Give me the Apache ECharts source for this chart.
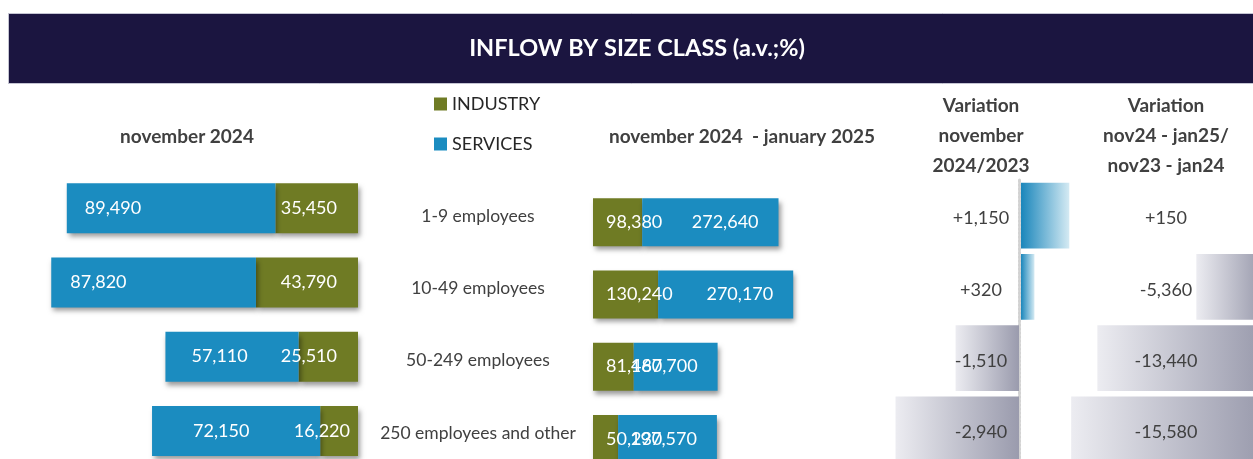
<!DOCTYPE html>
<html>
<head>
<meta charset="utf-8">
<title>Inflow by size class</title>
<script src="https://cdn.jsdelivr.net/npm/echarts@6/dist/echarts.min.js"></script>
<style>
  html, body { margin: 0; padding: 0; background: #fff; }
  #chart { width: 1253px; height: 459px; }
</style>
</head>
<body>
<div id="chart"></div>
<script>
const sizeClasses = ['1-9 employees', '10-49 employees', '50-249 employees', '250 employees and other']
const industryNov = [35450, 43790, 25510, 16220]
const servicesNov = [89490, 87820, 57110, 72150]
const industryPeriod = [98380, 130240, 81480, 50230]
const servicesPeriod = [272640, 270170, 167700, 197570]
const variationNov = [1150, 320, -1510, -2940]
const variationPeriod = [150, -5360, -13440, -15580]

// label insets (px) of the left chart, as in the original sheet
const indNovInset = [21, 21, 21, 8]
const svcNovInset = [18, 19, 26, 41]

const GREEN = '#6f7b24'
const BLUE = '#1b8cc0'
const TEXT = '#404040'
const FONT = 'Lato'

const fmt = v => Math.abs(v).toLocaleString('en-US')
const signed = v => (v >= 0 ? '+' : '-') + fmt(v)

const barShadow = {
  shadowColor: 'rgba(0,0,0,0.4)',
  shadowBlur: 5,
  shadowOffsetX: 2,
  shadowOffsetY: 4
}

function variationBar(params, api) {
  const v = api.value(0)
  const row = api.value(1)
  const zero = api.coord([0, row])
  const tip = api.coord([v, row])
  const h = api.size([0, 1])[1] * 0.925
  const cs = params.coordSys
  const up = v >= 0
  const left = Math.min(zero[0], tip[0])
  const w = Math.abs(tip[0] - zero[0])
  const stops = up
    ? [{ offset: 0, color: '#1a86bb' }, { offset: 1, color: '#d4eaf3' }]
    : [{ offset: 0, color: '#ececf1' }, { offset: 1, color: '#9a9bad' }]
  return {
    type: 'group',
    children: [
      {
        type: 'rect',
        shape: { x: up ? left + 2 : left, y: zero[1] - h / 2, width: w, height: h },
        style: { fill: new echarts.graphic.LinearGradient(0, 0, 1, 0, stops) }
      },
      {
        type: 'text',
        x: cs.x + cs.width / 2,
        y: zero[1] + 3,
        style: {
          text: signed(v),
          fill: TEXT,
          font: '18px ' + FONT,
          align: 'center',
          verticalAlign: 'middle'
        }
      }
    ]
  }
}

const chart = echarts.init(document.getElementById('chart'))

const headStyle = { color: TEXT, fontSize: 19, fontWeight: 'bold', fontFamily: FONT, lineHeight: 30 }
const barLabel = { show: true, color: '#fff', fontSize: 18, fontFamily: FONT, formatter: p => fmt(p.value) }

chart.setOption({
  backgroundColor: '#fff',
  animation: false,
  graphic: [{
    type: 'rect',
    left: 8,
    top: 13,
    z: -10,
    shape: { width: 1250, height: 70 },
    style: { fill: '#1b1540', stroke: '#c4c4d2', lineWidth: 1 }
  }],
  title: [
    {
      text: 'INFLOW BY SIZE CLASS (a.v.;%)',
      left: 637, top: 48, padding: 0,
      textAlign: 'center', textVerticalAlign: 'middle',
      textStyle: { color: '#fff', fontSize: 23.5, fontWeight: 'bold', fontFamily: FONT }
    },
    {
      text: 'november 2024',
      left: 187, top: 137, padding: 0,
      textAlign: 'center', textVerticalAlign: 'middle',
      textStyle: headStyle
    },
    {
      text: 'november 2024  - january 2025',
      left: 742, top: 137, padding: 0,
      textAlign: 'center', textVerticalAlign: 'middle',
      textStyle: headStyle
    },
    {
      text: 'Variation\nnovember\n2024/2023',
      left: 981, top: 136, padding: 0,
      textAlign: 'center', textVerticalAlign: 'middle',
      textStyle: headStyle
    },
    {
      text: 'Variation\nnov24 - jan25/\nnov23 - jan24',
      left: 1166, top: 136, padding: 0,
      textAlign: 'center', textVerticalAlign: 'middle',
      textStyle: headStyle
    }
  ],
  legend: {
    data: ['INDUSTRY', 'SERVICES'],
    orient: 'vertical',
    left: 434,
    top: 95,
    padding: 0,
    itemWidth: 13,
    itemHeight: 13,
    itemGap: 22,
    icon: 'rect',
    selectedMode: false,
    textStyle: { fontSize: 18, color: '#262626', fontFamily: FONT }
  },
  grid: [
    { left: 0, top: 171, width: 358, height: 297, outerBoundsMode: 'none' },
    { left: 593, top: 186, width: 250, height: 289, outerBoundsMode: 'none' },
    { left: 880, top: 180, width: 202, height: 285, outerBoundsMode: 'none' },
    { left: 1060, top: 180, width: 212, height: 285, outerBoundsMode: 'none' }
  ],
  xAxis: [
    { type: 'value', gridIndex: 0, inverse: true, min: 0, max: 153600, show: false },
    { type: 'value', gridIndex: 1, min: 0, max: 500000, show: false },
    { type: 'value', gridIndex: 2, min: -3310, max: 1500, show: false },
    { type: 'value', gridIndex: 3, min: -16490, max: 816, show: false }
  ],
  yAxis: [
    { type: 'category', gridIndex: 0, inverse: true, data: sizeClasses, show: false },
    {
      type: 'category', gridIndex: 1, inverse: true, data: sizeClasses,
      axisLine: { show: false },
      axisTick: { show: false },
      axisLabel: {
        align: 'center',
        verticalAlign: 'bottom',
        lineHeight: 12,
        margin: 115,
        fontSize: 17.5,
        color: TEXT,
        fontFamily: FONT
      }
    },
    {
      type: 'category', gridIndex: 2, inverse: true, data: sizeClasses,
      axisLine: { show: true, onZero: true, lineStyle: { color: '#d2d2d2', width: 3, type: [2, 2] } },
      axisTick: { show: false },
      axisLabel: { show: false }
    },
    { type: 'category', gridIndex: 3, inverse: true, data: sizeClasses, show: false }
  ],
  series: [
    {
      name: 'INDUSTRY',
      type: 'bar',
      stack: 'nov',
      xAxisIndex: 0,
      yAxisIndex: 0,
      barWidth: 50,
      itemStyle: Object.assign({ color: GREEN }, barShadow),
      label: Object.assign({ position: 'insideRight' }, barLabel),
      data: industryNov.map((v, i) => ({ value: v, label: { distance: indNovInset[i] } }))
    },
    {
      name: 'SERVICES',
      type: 'bar',
      stack: 'nov',
      xAxisIndex: 0,
      yAxisIndex: 0,
      barWidth: 50,
      itemStyle: Object.assign({ color: BLUE }, barShadow),
      label: Object.assign({ position: 'insideLeft' }, barLabel),
      data: servicesNov.map((v, i) => ({ value: v, label: { distance: svcNovInset[i] } }))
    },
    {
      name: 'INDUSTRY',
      type: 'bar',
      stack: 'period',
      xAxisIndex: 1,
      yAxisIndex: 1,
      barWidth: 48,
      itemStyle: Object.assign({ color: GREEN }, barShadow),
      label: Object.assign({ position: 'insideLeft', distance: 13 }, barLabel),
      data: industryPeriod
    },
    {
      name: 'SERVICES',
      type: 'bar',
      stack: 'period',
      xAxisIndex: 1,
      yAxisIndex: 1,
      barWidth: 48,
      itemStyle: Object.assign({ color: BLUE }, barShadow),
      label: Object.assign({ position: 'insideRight', distance: 20 }, barLabel),
      data: servicesPeriod
    },
    {
      name: 'Variation november 2024/2023',
      type: 'custom',
      xAxisIndex: 2,
      yAxisIndex: 2,
      clip: false,
      renderItem: variationBar,
      encode: { x: 0, y: 1 },
      data: variationNov.map((v, i) => [v, i])
    },
    {
      name: 'Variation nov24 - jan25/nov23 - jan24',
      type: 'custom',
      xAxisIndex: 3,
      yAxisIndex: 3,
      clip: false,
      renderItem: variationBar,
      encode: { x: 0, y: 1 },
      data: variationPeriod.map((v, i) => [v, i])
    }
  ]
})
</script>
</body>
</html>
